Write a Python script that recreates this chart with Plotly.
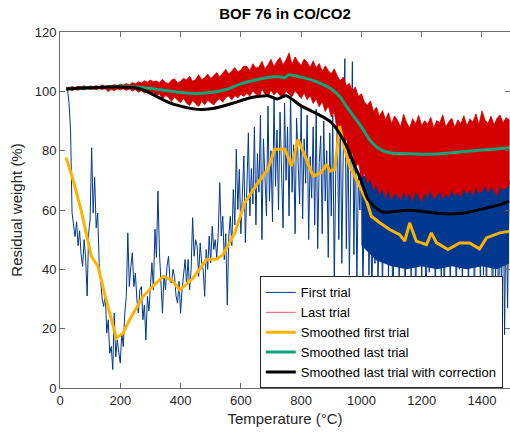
import plotly.graph_objects as go

# ---------------- data ----------------
# First trial: one reading every 5 degC from 20 to 1490 degC
first_T = list(range(20, 1495, 5))
first_W = [100.5, 100.6, 96, 87,
           # 40-135
           59, 55, 51, 56, 48, 53, 45, 41, 50, 44, 31, 52, 57, 81, 59, 71, 54, 59, 42, 36,
           # 140-235
           30, 27.5, 32, 18.5, 23, 11.7, 14, 6.2, 25.3, 10.5, 16.2, 12, 8.4, 18.5, 14, 25.3, 30.9, 52.3, 34.2, 41,
           # 240-335
           45.6, 34.2, 38.7, 30, 25.3, 33, 34.2, 23, 28, 16.2, 30.9, 26, 36.5, 42.2, 33, 53.5, 44, 66.4, 45.6, 36.5,
           # 340-435
           25.2, 38, 33.1, 41, 44.4, 36, 35.4, 40, 37.6, 31, 28.6, 36, 25.2, 33, 37.6, 43.3, 35, 43.3, 33.1, 40,
           # 440-535
           57.4, 44.4, 50, 47.8, 37.6, 48.9, 42, 39.9, 30.9, 46.7, 40, 51.2, 42.2, 54.5, 46.7, 50, 44, 52, 69.2, 51.2,
           # 540-635
           57.9, 43.3, 52, 28, 51.2, 57.9, 48, 66.9, 55, 80.5, 60.2, 73.7, 52, 63.6, 78.2, 49, 69.2, 86, 58, 74,
           # 640-735
           62, 88, 55, 79, 66, 92, 50, 84, 71, 58, 95, 63, 80, 56, 98, 68, 87, 60, 93, 74,
           # 740-835
           54, 96, 70, 88, 58, 99, 66, 82, 52, 91, 75, 62, 95, 57, 84, 69, 92, 50, 78, 64,
           # 840-935
           88, 55, 94, 47, 76, 85, 52, 90, 63, 80, 44, 86, 58, 92, 35, 74, 88, 50, 95, 42,
           # 940-1035
           82, 111, 47, 90, 38, 76, 110, 45, 85, 36, 72, 60, 80, 33, 68, 47, 76, 38, 64, 30,
           # 1040-1135
           72, 42, 78, 35, 62, 70, 31, 74, 46, 66, 37, 75, 52, 29, 70, 44, 77, 34, 63, 48,
           # 1140-1235
           73, 30, 68, 41, 76, 36, 60, 71, 27, 66, 45, 74, 33, 70, 50, 28, 72, 39, 67, 46,
           # 1240-1335
           75, 31, 64, 52, 78, 35, 69, 27, 73, 44, 66, 32, 76, 48, 61, 29, 74, 40, 70, 34,
           # 1340-1435
           68, 50, 77, 30, 65, 42, 75, 26, 71, 45, 63, 33, 79, 38, 69, 28, 74, 44, 66, 24,
           # 1440-1490
           72, 35, 77, 20, 68, 30, 75, 18, 64, 27, 70]

# dense core of the first trial above 1000 degC
first_core_T = [1000, 1050, 1100, 1150, 1200, 1250, 1300, 1350, 1400, 1450, 1490]
first_core_hi = [72, 70, 70, 69, 70, 69, 70, 70, 71, 71, 72]
first_core_lo = [48, 43, 41, 40, 41, 40, 41, 40, 41, 40, 42]

# Last trial: upper and lower envelope of the noise band, every 10 degC
last_T = list(range(20, 1500, 10))
last_hi = [101.4, 101.2, 101.6, 101.3, 101.7, 101.5, 101.9, 101.4, 101.8, 101.6,
           101.9, 101.5, 102.2, 101.7, 102.0, 101.8, 102.3, 101.9, 102.4, 102.1,
           102.6, 102.2, 103.0, 102.5, 103.2, 102.8, 103.6, 103.1, 103.8, 103.2,
           103.5, 102.9, 104.1, 103.0, 102.6, 103.8, 104.2, 102.9, 103.3, 104.4,
           103.8, 105.1, 103.4, 104.0, 105.6, 103.9, 104.6, 105.8, 104.3, 105.2,
           106.3, 104.9, 106.0, 107.4, 105.8, 106.9, 108.0, 106.5, 107.2, 108.5,
           108.4, 106.9, 109.3, 107.8, 108.2, 110.1, 107.5, 109.0, 110.8, 108.3,
           110.2, 111.4, 108.9, 110.6, 112.9, 109.1, 111.6, 110.0, 108.7, 110.9,
           109.8, 108.1, 110.3, 107.9, 109.4, 106.8, 108.6, 107.0, 105.9, 107.6,
           105.2, 103.6, 104.8, 101.9, 102.7, 100.1, 101.5, 98.3, 99.2, 96.4,
           95.3, 96.8, 93.2, 94.7, 91.6, 93.5, 90.4, 92.8, 89.1, 91.7,
           90.2, 88.1, 92.3, 89.5, 87.6, 90.8, 89.0, 91.9, 88.4, 90.1,
           88.9, 91.3, 87.7, 90.2, 89.4, 92.1, 88.0, 89.8, 90.9, 87.9,
           90.4, 89.1, 91.8, 88.3, 90.7, 89.6, 92.4, 88.8, 93.4, 90.3,
           89.2, 91.6, 88.7, 90.9, 92.0, 89.3, 91.1, 90.4]
last_lo = [100.4, 100.7, 100.3, 100.6, 100.4, 100.8, 100.5, 100.9, 100.6, 100.8,
           100.5, 100.9, 100.6, 100.9, 99.9, 100.7, 100.2, 100.8, 100.5, 100.9,
           100.3, 100.8, 100.1, 100.6, 99.7, 100.3, 99.4, 100.0, 99.0, 99.6,
           98.4, 99.2, 97.5, 98.7, 97.9, 96.6, 98.1, 97.0, 96.2, 97.6,
           96.0, 95.2, 96.9, 95.8, 94.9, 96.6, 95.5, 97.0, 96.1, 95.4,
           96.8, 97.5, 96.3, 97.9, 98.4, 97.1, 98.6, 97.8, 99.0, 98.3,
           99.3, 98.4, 100.2, 99.0, 97.9, 100.6, 99.1, 98.2, 100.4, 98.8,
           99.9, 98.6, 97.8, 100.1, 99.0, 98.3, 100.2, 98.9, 97.6, 99.5,
           97.2, 98.6, 95.9, 97.4, 94.8, 96.5, 93.2, 95.1, 91.4, 93.0,
           86.5, 88.8, 82.4, 84.6, 77.2, 79.8, 74.1, 75.9, 70.8, 72.3,
           68.9, 70.7, 66.8, 68.5, 65.2, 67.4, 64.1, 66.9, 63.5, 65.6,
           65.0, 63.4, 66.2, 64.1, 65.7, 63.0, 66.4, 64.6, 62.8, 65.9,
           64.3, 66.8, 63.7, 65.1, 66.2, 63.9, 65.5, 64.2, 66.9, 64.8,
           66.0, 64.5, 67.3, 65.4, 66.8, 64.9, 67.6, 65.8, 66.3, 68.2,
           65.9, 67.8, 66.5, 64.8, 68.1, 66.7, 67.4, 68.5]

# Smoothed curves
smooth_first_T = [20, 43, 70, 104, 126, 150, 187, 209, 231, 276,
                  310, 342, 370, 397, 420, 442, 486, 520, 541, 580,
                  613, 657, 690, 712, 746, 768, 790, 818, 840, 867,
                  884, 895, 911, 928, 945, 961, 989, 1017, 1033, 1061,
                  1094, 1127, 1144, 1160, 1182, 1216, 1232, 1249, 1287, 1326,
                  1359, 1392, 1415, 1459, 1490]
smooth_first_W = [77.7, 70.3, 60, 44.4, 41, 31, 16.8, 18.5, 23, 30.9,
                  34.5, 37.6, 36.5, 33.1, 35, 37.1, 43.3, 43.5, 45, 52.3,
                  62.4, 69.2, 73.7, 80.5, 80.5, 74.8, 83.8, 77.1, 71.4, 72.6,
                  75.4, 73.1, 73.7, 88.3, 80.5, 74.8, 69.2, 63, 57.9, 55.7,
                  53.4, 51.7, 49.5, 55.7, 49.5, 48.3, 52.3, 49, 46.7, 48.9,
                  48.9, 46.9, 50.6, 52.3, 52.8]
smooth_last_T = [22, 60, 100, 150, 200, 250, 300, 350, 400, 450,
                 500, 550, 600, 650, 700, 730, 745, 760, 800, 850,
                 900, 930, 950, 975, 1000, 1025, 1050, 1075, 1100, 1150,
                 1200, 1250, 1300, 1350, 1400, 1450, 1490]
smooth_last_W = [100.8, 101.0, 101.2, 101.4, 101.6, 101.5, 101.0, 100.3, 99.6, 99.3,
                 99.6, 100.6, 102.5, 103.8, 104.8, 104.9, 104.6, 105.6, 104.8, 103.3,
                 100.8, 98.0, 95.0, 91.5, 88.0, 84.0, 81.3, 79.8, 79.2, 79.0,
                 78.8, 78.9, 79.3, 79.8, 80.2, 80.6, 81.0]
smooth_corr_T = [22, 60, 100, 150, 200, 250, 280, 300, 330, 360,
                 400, 450, 500, 550, 580, 635, 690, 720, 750, 800,
                 855, 900, 945, 978, 995, 1022, 1045, 1072, 1100, 1160,
                 1220, 1280, 1340, 1415, 1460, 1490]
smooth_corr_W = [100.8, 101.0, 101.2, 101.4, 101.5, 101.2, 100.3, 99.3, 97.8, 96.3,
                 95.0, 94.0, 94.1, 95.3, 96.2, 97.9, 98.5, 97.4, 98.5, 95.1,
                 92.3, 89.5, 82.7, 74.8, 71.0, 63.6, 61.0, 59.3, 59.4, 59.9,
                 59.3, 58.7, 59.0, 60.7, 61.8, 63.0]

x_ticks = [0, 200, 400, 600, 800, 1000, 1200, 1400]
y_ticks = [0, 20, 40, 60, 80, 100, 120]

# ---------------- styles ----------------
BLUE = "#00388F"
RED = "#D20000"
YELLOW = "#FFB300"
GREEN = "#12A47A"
BLACK = "#000000"
FONT = "Liberation Sans, Arial, Helvetica, sans-serif"

fig = go.Figure()
fig.add_trace(go.Scatter(x=first_T, y=first_W, mode="lines", name="First trial",
                         line=dict(color=BLUE, width=1)))
fig.add_trace(go.Scatter(x=first_core_T + first_core_T[::-1],
                         y=first_core_hi + first_core_lo[::-1],
                         mode="lines", fill="toself", fillcolor=BLUE,
                         line=dict(color=BLUE, width=0), showlegend=False,
                         hoverinfo="skip"))
fig.add_trace(go.Scatter(x=last_T + last_T[::-1], y=last_hi + last_lo[::-1],
                         mode="lines", fill="toself", fillcolor=RED,
                         line=dict(color=RED, width=0.8), showlegend=False,
                         hoverinfo="skip"))
fig.add_trace(go.Scatter(x=[None], y=[None], mode="lines", name="Last trial",
                         line=dict(color="#E05A5A", width=1)))
fig.add_trace(go.Scatter(x=smooth_first_T, y=smooth_first_W, mode="lines",
                         name="Smoothed first trial",
                         line=dict(color=YELLOW, width=3)))
fig.add_trace(go.Scatter(x=smooth_last_T, y=smooth_last_W, mode="lines",
                         name="Smoothed last trial",
                         line=dict(color=GREEN, width=3, shape="spline", smoothing=0.8)))
fig.add_trace(go.Scatter(x=smooth_corr_T, y=smooth_corr_W, mode="lines",
                         name="Smoothed last trial with correction",
                         line=dict(color=BLACK, width=3, shape="spline", smoothing=0.8)))

axis_common = dict(showline=True, linecolor="#6b6b6b", linewidth=1, mirror="ticks",
                   ticks="inside", ticklen=5, tickcolor="#6b6b6b", tickwidth=1,
                   showgrid=False, zeroline=False,
                   tickfont=dict(size=13, color="#262626", family=FONT))

fig.update_layout(
    width=510, height=432,
    margin=dict(l=60, r=0, t=32, b=44, autoexpand=False),
    paper_bgcolor="white", plot_bgcolor="white",
    font=dict(family=FONT, size=13, color="#262626"),
    title=dict(text="<b>BOF 76 in CO/CO2</b>", x=0.5, xref="paper",
               y=1 - 13.5 / 432, yref="container", yanchor="middle",
               font=dict(size=15, color="#000000", family=FONT)),
    xaxis=dict(range=[0, 1493], tickvals=x_ticks,
               title=dict(text="Temperature (°C)", font=dict(size=15, color="#262626"),
                          standoff=6),
               **axis_common),
    yaxis=dict(range=[0, 120], tickvals=y_ticks,
               title=dict(text="Residual weight (%)", font=dict(size=15, color="#262626"),
                          standoff=8),
               **axis_common),
    legend=dict(x=0.444, y=0.156, xanchor="left", yanchor="middle",
                bgcolor="white", bordercolor="#262626", borderwidth=1,
                font=dict(size=13, color="#000000", family=FONT),
                tracegroupgap=0, itemwidth=30),
    showlegend=True,
)

fig.write_html("out.html")
